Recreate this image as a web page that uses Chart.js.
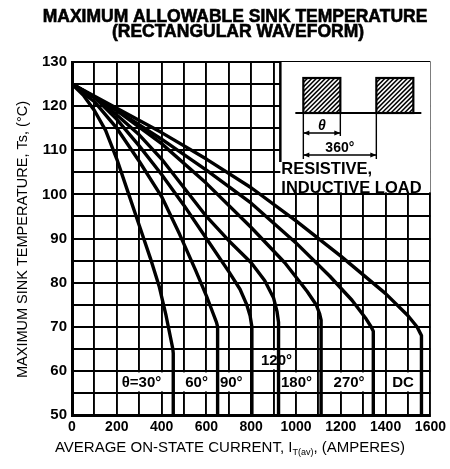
<!DOCTYPE html>
<html>
<head>
<meta charset="utf-8">
<script src="https://cdn.jsdelivr.net/npm/chart.js@4.4.0/dist/chart.umd.min.js"></script>
<style>
  html, body { margin: 0; padding: 0; background: #fff; }
  canvas { display: block; }
</style>
</head>
<body>
<canvas id="sinkChart" width="450" height="469"></canvas>
<script>
// conduction angle curves: average current (A) vs max sink temperature (°C)
const current30 = [0, 50, 100, 150, 200, 250, 300, 350, 390, 420, 440, 450, 452, 452];
const temp30 = [125, 122.5, 119, 114.5, 108, 100.5, 93, 85.5, 79, 72.5, 67.5, 65, 64, 50];
const current60 = [0, 100, 200, 300, 400, 480, 550, 600, 630, 645, 650, 650];
const temp60 = [125, 121, 115, 107.5, 99.5, 91, 83, 77, 73, 71, 70, 50];
const current90 = [0, 100, 200, 300, 400, 500, 600, 700, 750, 780, 795, 803, 803];
const temp90 = [125, 122, 117, 111, 104.5, 97.5, 90, 82.5, 78.5, 75, 72.5, 70, 50];
const current120 = [0, 100, 200, 300, 400, 500, 600, 700, 800, 860, 900, 915, 922, 922];
const temp120 = [125, 122, 118, 113.5, 108, 101.5, 95, 89.5, 84.5, 80.5, 76.5, 73.5, 71, 50];
const current180 = [0, 200, 400, 600, 800, 950, 1050, 1090, 1105, 1112, 1112];
const temp180 = [125, 119, 111.5, 102.5, 92.5, 84.5, 78, 75, 73, 71.5, 50];
const current270 = [0, 200, 400, 600, 800, 1000, 1150, 1250, 1310, 1335, 1345, 1345];
const temp270 = [125, 119, 112.5, 105.5, 98, 89, 81.5, 76, 72, 70, 69, 50];
const currentDC = [0, 200, 400, 600, 800, 1000, 1200, 1400, 1500, 1540, 1555, 1560, 1560];
const tempDC = [125, 119.5, 114, 108, 101.5, 94, 86, 77.5, 72.5, 70, 68.5, 68, 50];

const curveLabels = ['θ=30°', '60°', '90°', '120°', '180°', '270°', 'DC'];
const labelCurrents = [310, 556, 711, 913, 1002, 1237, 1478];
const labelTemps = [57.5, 57.5, 57.5, 62.5, 57.5, 57.5, 57.5];

const toPoints = (xs, ys) => xs.map((x, i) => ({ x: x, y: ys[i] }));

const series = [
  toPoints(current30, temp30),
  toPoints(current60, temp60),
  toPoints(current90, temp90),
  toPoints(current120, temp120),
  toPoints(current180, temp180),
  toPoints(current270, temp270),
  toPoints(currentDC, tempDC)
];

const FONT = '"Liberation Sans", Arial, sans-serif';

// texts, inset and curve labels
const decorations = {
  id: 'decorations',
  beforeDatasetsDraw(chart) {
    const ctx = chart.ctx;
    const xs = chart.scales.x, ys = chart.scales.y;
    ctx.save();
    ctx.font = 'bold 15px ' + FONT;
    ctx.textAlign = 'center';
    ctx.textBaseline = 'middle';
    curveLabels.forEach((t, i) => {
      const cx = xs.getPixelForValue(labelCurrents[i]);
      const cy = ys.getPixelForValue(labelTemps[i]);
      const w = ctx.measureText(t).width + 6;
      const top = ys.getPixelForValue(labelTemps[i] + 2.5) + 1.5;
      const bot = ys.getPixelForValue(labelTemps[i] - 2.5) - 1.5;
      ctx.fillStyle = '#fff';
      ctx.fillRect(cx - w / 2, top, w, bot - top);
      ctx.fillStyle = '#000';
      ctx.fillText(t, cx, cy + 1);
    });

    // inset box
    const ca = chart.chartArea;
    const ix = xs.getPixelForValue(930);
    const iy = ca.top;
    const ib = ys.getPixelForValue(100) - 2;
    ctx.fillStyle = '#fff';
    ctx.fillRect(ix, iy, ca.right - ix, ib - iy);
    ctx.strokeStyle = '#000';
    ctx.lineWidth = 2.5;
    ctx.beginPath();
    ctx.moveTo(ix, iy);
    ctx.lineTo(ix, iy + 100);
    ctx.stroke();

    // waveform
    const base = iy + 51;
    const r1 = ix + 23, r2 = ix + 96, rw = 37, rh = 35;
    ctx.lineWidth = 2;
    [r1, r2].forEach(rx => {
      ctx.save();
      ctx.beginPath();
      ctx.rect(rx, base - rh, rw, rh);
      ctx.clip();
      ctx.lineWidth = 1.5;
      for (let k = -rh; k < rw + rh; k += 4.5) {
        ctx.beginPath();
        ctx.moveTo(rx + k, base);
        ctx.lineTo(rx + k + rh, base - rh);
        ctx.stroke();
      }
      ctx.restore();
      ctx.lineWidth = 2.2;
      ctx.strokeRect(rx, base - rh, rw, rh);
    });
    ctx.beginPath();
    ctx.moveTo(ix + 15, base);
    ctx.lineTo(ix + 141, base);
    ctx.stroke();

    // dimension lines
    ctx.lineWidth = 1.4;
    ctx.beginPath();
    ctx.moveTo(r1, base); ctx.lineTo(r1, base + 46);
    ctx.moveTo(r1 + rw, base); ctx.lineTo(r1 + rw, base + 23);
    ctx.moveTo(r2, base); ctx.lineTo(r2, base + 46);
    ctx.moveTo(r1, base + 20); ctx.lineTo(r1 + rw, base + 20);
    ctx.moveTo(r1, base + 42); ctx.lineTo(r2, base + 42);
    ctx.stroke();
    const arrow = (x, y, dir) => {
      ctx.beginPath();
      ctx.moveTo(x, y);
      ctx.lineTo(x + dir * 6, y - 2.5);
      ctx.lineTo(x + dir * 6, y + 2.5);
      ctx.closePath();
      ctx.fill();
    };
    ctx.fillStyle = '#000';
    arrow(r1, base + 20, 1); arrow(r1 + rw, base + 20, -1);
    arrow(r1, base + 42, 1); arrow(r2, base + 42, -1);
    ctx.font = 'italic bold 14px ' + FONT;
    ctx.textAlign = 'center';
    ctx.textBaseline = 'alphabetic';
    ctx.fillText('θ', r1 + rw / 2, base + 17);
    ctx.font = 'bold 14px ' + FONT;
    ctx.fillText('360°', (r1 + r2) / 2, base + 39);

    ctx.font = 'bold 16.5px ' + FONT;
    ctx.textAlign = 'left';
    ctx.fillText('RESISTIVE,', ix + 1, iy + 112);
    ctx.fillText('INDUCTIVE LOAD', ix + 1, iy + 131);
    ctx.restore();
  },
  afterDraw(chart) {
    const ctx = chart.ctx;
    const ca = chart.chartArea;
    ctx.save();
    ctx.fillStyle = '#000';
    ctx.strokeStyle = '#000';
    ctx.lineWidth = 0.6;
    ctx.textAlign = 'center';
    ctx.textBaseline = 'alphabetic';
    ctx.font = 'bold 17.5px ' + FONT;
    ctx.fillText('MAXIMUM ALLOWABLE SINK TEMPERATURE', 235, 22);
    ctx.strokeText('MAXIMUM ALLOWABLE SINK TEMPERATURE', 235, 22);
    ctx.fillText('(RECTANGULAR WAVEFORM)', 238, 37);
    ctx.strokeText('(RECTANGULAR WAVEFORM)', 238, 37);

    // y axis title
    ctx.font = '14.5px ' + FONT;
    ctx.translate(27, (ca.top + ca.bottom) / 2 + 1);
    ctx.rotate(-Math.PI / 2);
    ctx.fillText('MAXIMUM SINK TEMPERATURE, Ts, (°C)', 0, 0);
    ctx.setTransform(1, 0, 0, 1, 0, 0);

    // x axis title with subscript
    const partA = 'AVERAGE ON-STATE CURRENT, I';
    const sub = 'T(av)';
    const partB = ', (AMPERES)';
    ctx.font = '15px ' + FONT;
    const wa = ctx.measureText(partA).width;
    const wb = ctx.measureText(partB).width;
    ctx.font = '9px ' + FONT;
    const ws = ctx.measureText(sub).width;
    let x = 230 - (wa + ws + wb) / 2;
    const y = 452;
    ctx.textAlign = 'left';
    ctx.font = '15px ' + FONT;
    ctx.fillText(partA, x, y);
    x += wa;
    ctx.font = '9px ' + FONT;
    ctx.fillText(sub, x, y + 3);
    x += ws;
    ctx.font = '15px ' + FONT;
    ctx.fillText(partB, x, y);
    ctx.restore();
  }
};

new Chart(document.getElementById('sinkChart').getContext('2d'), {
  type: 'scatter',
  data: {
    datasets: series.map((pts, i) => ({
      label: curveLabels[i],
      data: pts,
      showLine: true,
      borderColor: '#000',
      borderWidth: 3.4,
      pointRadius: 0,
      tension: 0,
      borderJoinStyle: 'round',
      fill: false
    }))
  },
  options: {
    responsive: false,
    animation: false,
    layout: { padding: { top: 62, right: 17, left: 0, bottom: 0 } },
    plugins: {
      legend: { display: false },
      tooltip: { enabled: false },
      title: { display: false }
    },
    scales: {
      x: {
        type: 'linear',
        min: 0,
        max: 1600,
        afterFit: s => { s.height = 54; },
        ticks: {
          stepSize: 100,
          autoSkip: false,
          maxRotation: 0,
          padding: 4,
          color: '#000',
          font: { family: FONT, size: 14, weight: 'bold' },
          callback: v => (v % 200 === 0 ? v : '')
        },
        grid: { color: '#000', lineWidth: 1.9, drawTicks: false },
        border: { display: true, color: '#000', width: 3 }
      },
      y: {
        min: 50,
        max: 130,
        afterFit: s => { s.width = 72; },
        ticks: {
          stepSize: 5,
          autoSkip: false,
          padding: 5,
          color: '#000',
          font: { family: FONT, size: 15, weight: 'bold' },
          callback: v => (v % 10 === 0 ? v : '')
        },
        grid: { color: '#000', lineWidth: 1.9, drawTicks: false },
        border: { display: true, color: '#000', width: 3 }
      }
    }
  },
  plugins: [decorations]
});
</script>
</body>
</html>
